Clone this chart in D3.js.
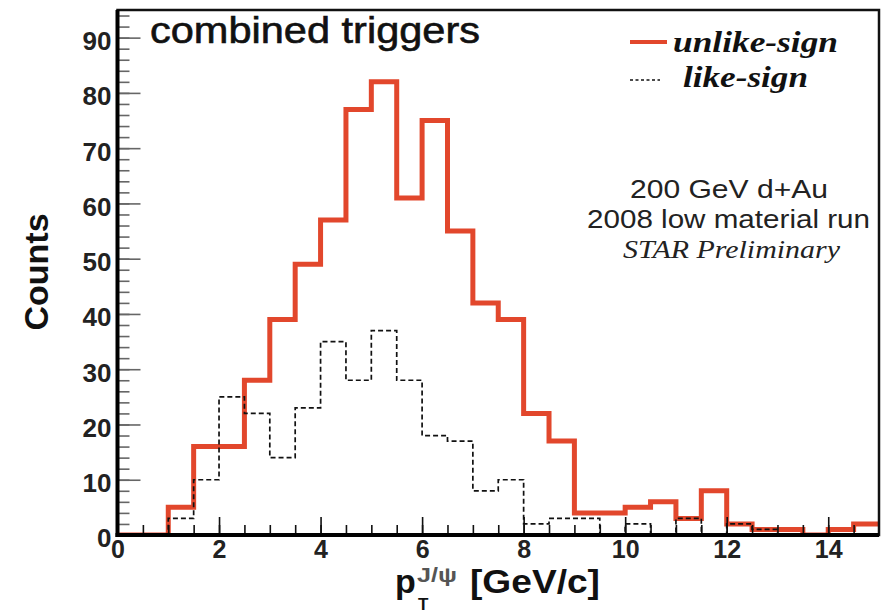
<!DOCTYPE html>
<html>
<head>
<meta charset="utf-8">
<script src="https://cdn.jsdelivr.net/npm/d3@7"></script>
<style>
  html, body { margin: 0; padding: 0; background: #fff; }
  svg { display: block; }
</style>
</head>
<body>
<svg id="chart" width="882" height="614"></svg>
<script>
// J/psi pT spectrum, 0.5 GeV/c bins from 0 to 15
const binEdges = d3.range(0, 15, 0.5);
const unlikeCounts = [0, 0, 5, 16, 16, 28, 39, 49, 57, 77, 82, 61, 75, 55, 42,
                      39, 22, 17, 4, 4, 5, 6, 3, 8, 2, 1, 1, 0, 1, 2];
const likeCounts   = [0, 0, 3, 10, 25, 22, 14, 23, 35, 28, 37, 28, 18, 17, 8,
                      10, 2, 3, 3, 0, 2, 0, 3, 0, 2, 1, 0, 0, 0, 0];
const xMajorTicks = [0, 2, 4, 6, 8, 10, 12, 14];
const yMajorTicks = [0, 10, 20, 30, 40, 50, 60, 70, 80, 90];
const seriesNames = ["unlike-sign", "like-sign"];
const infoLines = ["200 GeV d+Au", "2008 low material run", "STAR Preliminary"];

const svg = d3.select("#chart");
const plotLeft = 117.5, plotRight = 879, plotTop = 10, plotBottom = 535;

const x = d3.scaleLinear().domain([0, 15]).range([plotLeft, plotRight]);
const y = d3.scaleLinear().domain([0, 95]).range([plotBottom, plotTop]);

svg.append("defs").append("clipPath").attr("id", "plotClip")
  .append("rect").attr("x", plotLeft).attr("y", plotTop)
  .attr("width", plotRight - plotLeft).attr("height", plotBottom - plotTop);

// histogram outline: one point per bin edge plus the closing edge
function stepPoints(counts) {
  const pts = binEdges.map((e, i) => [e, counts[i]]);
  pts.push([15, counts[counts.length - 1]]);
  return pts;
}
const step = d3.line().x(d => x(d[0])).y(d => y(d[1])).curve(d3.curveStepAfter);

const plot = svg.append("g").attr("clip-path", "url(#plotClip)");
plot.append("path")
  .attr("d", step(stepPoints(unlikeCounts)))
  .attr("fill", "none").attr("stroke", "#e2472c").attr("stroke-width", 5)
  .attr("stroke-linejoin", "miter");
plot.append("path")
  .attr("d", step(stepPoints(likeCounts)))
  .attr("fill", "none").attr("stroke", "#111").attr("stroke-width", 1.7)
  .attr("stroke-dasharray", "5,3");

// minor and major ticks, drawn inward
const yMinor = svg.append("g").attr("transform", `translate(${plotLeft},0)`)
  .call(d3.axisLeft(y).tickValues(d3.range(0, 95, 2)).tickSize(-12).tickFormat(""));
const yMajor = svg.append("g").attr("transform", `translate(${plotLeft},0)`)
  .call(d3.axisLeft(y).tickValues(yMajorTicks).tickSize(-23).tickPadding(6));
[yMinor, yMajor].forEach(g => {
  g.select(".domain").remove();
  g.selectAll(".tick line").attr("stroke", "#666").attr("stroke-width", 1.6);
});
yMajor.selectAll("text")
  .attr("font-family", "Liberation Sans, Arial, sans-serif")
  .attr("font-size", 26).attr("font-weight", "bold").attr("fill", "#222")
  .attr("dy", "0.46em");

const xMinor = svg.append("g").attr("transform", `translate(0,${plotBottom})`)
  .call(d3.axisBottom(x).tickValues(d3.range(0, 15, 0.5)).tickSize(-10).tickFormat(""));
const xMajor = svg.append("g").attr("transform", `translate(0,${plotBottom})`)
  .call(d3.axisBottom(x).tickValues(xMajorTicks).tickSize(-18).tickPadding(5));
[xMinor, xMajor].forEach(g => {
  g.select(".domain").remove();
  g.selectAll(".tick line").attr("stroke", "#111").attr("stroke-width", 1.6);
});
xMajor.selectAll("text")
  .attr("font-family", "Liberation Sans, Arial, sans-serif")
  .attr("font-size", 25).attr("font-weight", "bold").attr("fill", "#222");

// frame
svg.append("rect").attr("x", plotLeft).attr("y", plotTop)
  .attr("width", plotRight - plotLeft).attr("height", plotBottom - plotTop)
  .attr("fill", "none").attr("stroke", "#111").attr("stroke-width", 2.5);
svg.append("line").attr("x1", plotLeft).attr("x2", plotLeft).attr("y1", plotTop).attr("y2", plotBottom + 2)
  .attr("stroke", "#000").attr("stroke-width", 4);
svg.append("line").attr("x1", plotLeft - 2).attr("x2", plotRight).attr("y1", plotBottom).attr("y2", plotBottom)
  .attr("stroke", "#000").attr("stroke-width", 4);

const sans = "Liberation Sans, Arial, Helvetica, sans-serif";
const serif = "Liberation Serif, Times New Roman, serif";

// title
svg.append("text").attr("x", 150).attr("y", 43)
  .attr("font-family", sans).attr("font-size", 36)
  .attr("stroke", "#111").attr("stroke-width", 0.6)
  .attr("textLength", 330).attr("lengthAdjust", "spacingAndGlyphs").attr("fill", "#111")
  .text("combined triggers");

// axis titles
svg.append("text")
  .attr("transform", "translate(48,272) rotate(-90)")
  .attr("text-anchor", "middle")
  .attr("font-family", sans).attr("font-size", 34).attr("font-weight", "bold").attr("fill", "#111")
  .text("Counts");

const xt = svg.append("g").attr("font-family", sans).attr("font-weight", "bold").attr("fill", "#111");
xt.append("text").attr("x", 395).attr("y", 593).attr("font-size", 34).text("p");
xt.append("text").attr("x", 417).attr("y", 582).attr("font-size", 20).attr("fill", "#555")
  .attr("textLength", 40).attr("lengthAdjust", "spacingAndGlyphs").text("J/ψ");
xt.append("text").attr("x", 418).attr("y", 610).attr("font-size", 17).text("T");
xt.append("text").attr("x", 470).attr("y", 593).attr("font-size", 34)
  .attr("textLength", 130).attr("lengthAdjust", "spacingAndGlyphs").text("[GeV/c]");

// legend
const legend = svg.append("g");
legend.append("line").attr("x1", 630).attr("x2", 667).attr("y1", 42).attr("y2", 42)
  .attr("stroke", "#e2472c").attr("stroke-width", 4);
legend.append("line").attr("x1", 630).attr("x2", 660).attr("y1", 80).attr("y2", 80)
  .attr("stroke", "#111").attr("stroke-width", 1.6).attr("stroke-dasharray", "3,2.5");
legend.append("text").attr("x", 673).attr("y", 52)
  .attr("font-family", serif).attr("font-style", "italic").attr("font-weight", "bold")
  .attr("font-size", 29).attr("fill", "#111")
  .attr("textLength", 165).attr("lengthAdjust", "spacingAndGlyphs").text(seriesNames[0]);
legend.append("text").attr("x", 683).attr("y", 87)
  .attr("font-family", serif).attr("font-style", "italic").attr("font-weight", "bold")
  .attr("font-size", 29).attr("fill", "#111")
  .attr("textLength", 125).attr("lengthAdjust", "spacingAndGlyphs").text(seriesNames[1]);

// run information
const info = svg.append("g").attr("text-anchor", "middle").attr("fill", "#222");
info.append("text").attr("x", 729).attr("y", 198)
  .attr("font-family", sans).attr("font-size", 25)
  .attr("textLength", 198).attr("lengthAdjust", "spacingAndGlyphs").text(infoLines[0]);
info.append("text").attr("x", 728.5).attr("y", 228)
  .attr("font-family", sans).attr("font-size", 25)
  .attr("textLength", 283).attr("lengthAdjust", "spacingAndGlyphs").text(infoLines[1]);
info.append("text").attr("x", 731.5).attr("y", 258)
  .attr("font-family", serif).attr("font-style", "italic").attr("font-size", 26)
  .attr("textLength", 217).attr("lengthAdjust", "spacingAndGlyphs").text(infoLines[2]);
</script>
</body>
</html>
